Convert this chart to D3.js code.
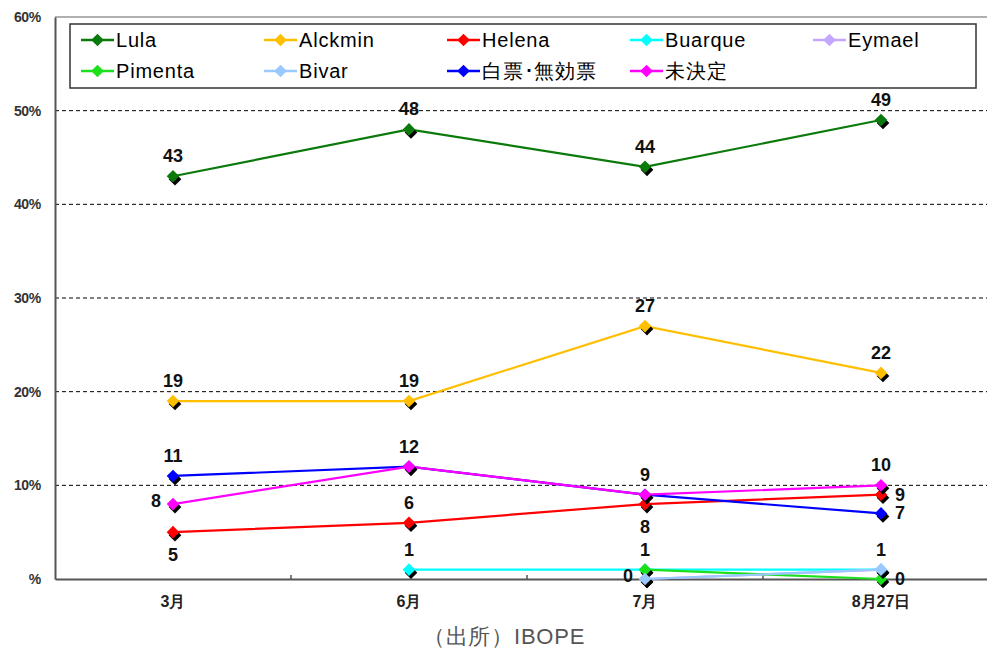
<!DOCTYPE html>
<html>
<head>
<meta charset="utf-8">
<script src="https://cdn.jsdelivr.net/npm/d3@7/dist/d3.min.js"></script>
<style>
  html, body { margin: 0; padding: 0; background: #ffffff; }
  svg { display: block; }
  text { font-family: "Liberation Sans", Arial, sans-serif; }
</style>
</head>
<body>
<svg id="chart" width="987" height="650"></svg>
<script>
// Poll periods
const categories = ["3月", "6月", "7月", "8月27日"];

// Vote intention by candidate (%), null = not polled
const lula     = [43, 48, 44, 49];
const alckmin  = [19, 19, 27, 22];
const helena   = [5, 6, 8, 9];
const buarque  = [null, 1, 1, 1];
const eymael   = [null, null, 0, 1];
const pimenta  = [null, null, 1, 0];
const bivar    = [null, null, 0, 1];
const blank    = [11, 12, 9, 7];
const undecided = [8, 12, 9, 10];

// Which side of the point each value label sits on (a=above, b=below, l=left, r=right)
const sideLula      = ["a", "a", "a", "a"];
const sideAlckmin   = ["a", "a", "a", "a"];
const sideHelena    = ["b", "a", "b", "r"];
const sideBuarque   = [null, "a", null, null];
const sideEymael    = [null, null, null, null];
const sidePimenta   = [null, null, "a", "r"];
const sideBivar     = [null, null, "l", "a"];
const sideBlank     = ["a", null, null, "r"];
const sideUndecided = ["l", "a", "a", "a"];

const yTickValues = [0, 10, 20, 30, 40, 50, 60];
const yTickLabels = ["%", "10%", "20%", "30%", "40%", "50%", "60%"];

const series = [
  { name: "Lula",        values: lula,      sides: sideLula,      color: "#0b7a0b" },
  { name: "Alckmin",     values: alckmin,   sides: sideAlckmin,   color: "#ffbf00" },
  { name: "Helena",      values: helena,    sides: sideHelena,    color: "#ff0000" },
  { name: "Buarque",     values: buarque,   sides: sideBuarque,   color: "#00ffff" },
  { name: "Eymael",      values: eymael,    sides: sideEymael,    color: "#c4a6ff" },
  { name: "Pimenta",     values: pimenta,   sides: sidePimenta,   color: "#1de01d" },
  { name: "Bivar",       values: bivar,     sides: sideBivar,     color: "#99c9ff" },
  { name: "白票･無効票", values: blank,     sides: sideBlank,     color: "#0000ff" },
  { name: "未決定",      values: undecided, sides: sideUndecided, color: "#ff00ff" }
];

const svg = d3.select("#chart");
const plot = { left: 55, top: 17, bottom: 579, right: 987 };

const x = d3.scaleBand().domain(categories).range([plot.left, plot.left + 4 * 236]).padding(0);
const cx = c => x(c) + x.bandwidth() / 2;
const y = d3.scaleLinear().domain([0, 60]).range([plot.bottom, plot.top]);

// Dashed gridlines
svg.append("g")
  .selectAll("line")
  .data(yTickValues.filter(v => v > 0 && v < 60))
  .join("line")
  .attr("x1", plot.left).attr("x2", plot.right)
  .attr("y1", d => y(d)).attr("y2", d => y(d))
  .attr("stroke", "#000").attr("stroke-width", 1)
  .attr("stroke-dasharray", "4,3");

// Top frame edge
svg.append("line")
  .attr("x1", plot.left).attr("x2", plot.right)
  .attr("y1", y(60)).attr("y2", y(60))
  .attr("stroke", "#b0b0b0").attr("stroke-width", 2);

// Left axis
const yAxis = d3.axisLeft(y).tickValues(yTickValues)
  .tickFormat((d, i) => yTickLabels[i]).tickSize(0).tickPadding(14);
const gy = svg.append("g").attr("transform", `translate(${plot.left},0)`).call(yAxis);
gy.select(".domain").attr("stroke", "#555").attr("stroke-width", 2);
gy.selectAll("text").attr("font-size", 14).attr("fill", "#333").attr("font-weight", "bold")
  .attr("letter-spacing", -0.3);

// Bottom axis
const xAxis = d3.axisBottom(x).tickSize(0).tickPadding(17);
const gx = svg.append("g").attr("transform", `translate(0,${plot.bottom})`).call(xAxis);
gx.select(".domain").attr("stroke", "#555").attr("stroke-width", 2);
gx.selectAll("text").attr("font-size", 16).attr("fill", "#222").attr("font-weight", "bold")
  .attr("font-family", "'Noto Sans CJK JP', 'Liberation Sans', sans-serif");
gx.selectAll(".tick").attr("transform", d => `translate(${cx(d)},0)`);
// category boundary ticks
svg.append("g").selectAll("line")
  .data(categories.slice(1))
  .join("line")
  .attr("x1", d => x(d)).attr("x2", d => x(d))
  .attr("y1", plot.bottom - 4).attr("y2", plot.bottom)
  .attr("stroke", "#555").attr("stroke-width", 1.5);

// Lines
const line = d3.line()
  .defined(d => d.v !== null)
  .x(d => cx(d.c)).y(d => y(d.v));

const pts = s => s.values.map((v, i) => ({ c: categories[i], v, side: s.sides[i], color: s.color }));

svg.append("g").selectAll("path")
  .data(series)
  .join("path")
  .attr("d", s => line(pts(s)))
  .attr("fill", "none")
  .attr("stroke", s => s.color)
  .attr("stroke-width", 2.2);

// Diamond markers with dark shadow
const diamond = d3.symbol(d3.symbolSquare, 80)();
const markers = svg.append("g");
series.forEach(s => {
  pts(s).filter(d => d.v !== null).forEach(d => {
    markers.append("path").attr("d", diamond)
      .attr("transform", `translate(${cx(d.c) + 2},${y(d.v) + 3}) rotate(45)`)
      .attr("fill", "#000");
    markers.append("path").attr("d", diamond)
      .attr("transform", `translate(${cx(d.c)},${y(d.v)}) rotate(45)`)
      .attr("fill", s.color);
  });
});

// Value labels
const labels = svg.append("g");
series.forEach(s => {
  pts(s).filter(d => d.v !== null && d.side).forEach(d => {
    let tx = cx(d.c), ty = y(d.v), anchor = "middle";
    if (d.side === "a") { ty -= 14; }
    else if (d.side === "b") { ty += 29; }
    else if (d.side === "l") { tx -= 12; ty += 3; anchor = "end"; }
    else if (d.side === "r") { tx += 14; ty += 6; anchor = "start"; }
    labels.append("text")
      .attr("x", tx).attr("y", ty)
      .attr("text-anchor", anchor)
      .attr("font-size", 18).attr("font-weight", "bold").attr("fill", "#111")
      .text(d.v);
  });
});

// Legend
const legend = svg.append("g");
legend.append("rect")
  .attr("x", 70).attr("y", 24).attr("width", 906).attr("height", 64)
  .attr("fill", "#fff").attr("stroke", "#333").attr("stroke-width", 1.5);
series.forEach((s, i) => {
  const col = i % 5, row = Math.floor(i / 5);
  const lx = 81 + col * 183, ly = 40 + row * 31;
  const g = legend.append("g").attr("transform", `translate(${lx},${ly})`);
  g.append("line").attr("x1", 0).attr("x2", 33).attr("y1", 0).attr("y2", 0)
    .attr("stroke", s.color).attr("stroke-width", 2.5);
  g.append("path").attr("d", diamond)
    .attr("transform", "translate(16.5,0) rotate(45)").attr("fill", s.color);
  g.append("text").attr("x", 35).attr("y", 7)
    .attr("font-size", 20).attr("fill", "#000").attr("letter-spacing", 0.8)
    .text(s.name);
});

// Source note
svg.append("text")
  .attr("x", 504).attr("y", 644).attr("text-anchor", "middle")
  .attr("font-size", 22).attr("fill", "#555").attr("letter-spacing", 0.8)
  .attr("font-family", "'Noto Sans CJK JP', 'Noto Sans', sans-serif")
  .text("（出所）IBOPE");
</script>
</body>
</html>
